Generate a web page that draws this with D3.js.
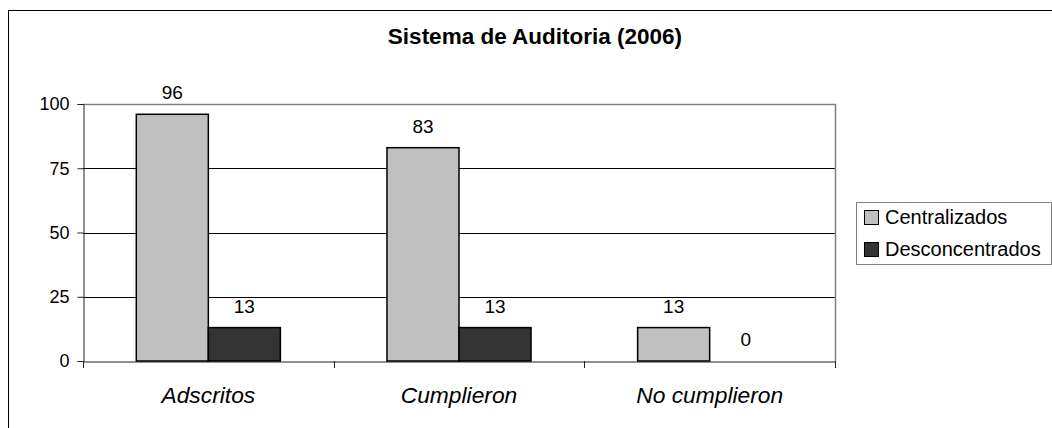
<!DOCTYPE html>
<html>
<head>
<meta charset="utf-8">
<script src="https://cdn.jsdelivr.net/npm/d3@7"></script>
<style>
  body { margin: 0; background: #fff; }
  svg { font-family: "Liberation Sans", Arial, sans-serif; }
</style>
</head>
<body>
<svg id="chart"></svg>
<script>
const categories = ['Adscritos', 'Cumplieron', 'No cumplieron']
const seriesNames = ['Centralizados', 'Desconcentrados']
const centralizados = [96, 83, 13]
const desconcentrados = [13, 13, 0]
const yTicks = [0, 25, 50, 75, 100]
const title = 'Sistema de Auditoria (2006)'

const colors = { Centralizados: '#c0c0c0', Desconcentrados: '#333333' }
const FONT = '"Liberation Sans", Arial, sans-serif'

const W = 1052, H = 428
const plot = { left: 83, right: 835, top: 104, bottom: 361 }

const svg = d3.select('#chart').attr('width', W).attr('height', H)

// outer frame
svg.append('rect')
  .attr('x', 8.5).attr('y', 10.5)
  .attr('width', W + 10).attr('height', H + 10)
  .attr('fill', 'none').attr('stroke', '#000')

const x0 = d3.scaleBand()
  .domain(categories)
  .range([plot.left, plot.right])

const x1 = d3.scaleBand()
  .domain(seriesNames)
  .range([0, x0.bandwidth()])
  .paddingInner(0)
  .paddingOuter(0.74)

const y = d3.scaleLinear()
  .domain([0, 100])
  .range([plot.bottom, plot.top])

// grid lines
svg.append('g')
  .selectAll('line')
  .data(yTicks.filter(t => t > 0 && t < 100))
  .enter()
  .append('line')
  .attr('x1', plot.left).attr('x2', plot.right)
  .attr('y1', d => Math.round(y(d)) + 0.5).attr('y2', d => Math.round(y(d)) + 0.5)
  .attr('stroke', '#000')

// plot border top/right (gray)
svg.append('path')
  .attr('d', `M${plot.left},${plot.top + 0.5}H${plot.right + 0.5}V${plot.bottom}`)
  .attr('fill', 'none').attr('stroke', '#808080').attr('stroke-width', 1.5)

// y axis
const yAxis = svg.append('g')
  .attr('transform', `translate(${plot.left + 0.5},0)`)
  .call(d3.axisLeft(y).tickValues(yTicks).tickSize(6).tickPadding(8))
yAxis.select('.domain').attr('stroke', '#222')
yAxis.selectAll('.tick line').attr('stroke', '#222')
yAxis.selectAll('text').attr('font-size', 18).attr('fill', '#000')
  .attr('font-family', FONT)

// x axis
const xAxis = svg.append('g')
  .attr('transform', `translate(0,${plot.bottom + 0.5})`)
  .call(d3.axisBottom(x0).tickSize(0))
xAxis.select('.domain').attr('stroke', '#222')
xAxis.selectAll('text')
  .attr('y', 41).attr('dy', null)
  .attr('font-size', 22.8).attr('font-style', 'italic').attr('fill', '#000')
  .attr('font-family', FONT)

// category separator ticks
svg.append('g')
  .selectAll('line')
  .data(categories.concat(['end']))
  .enter()
  .append('line')
  .attr('x1', (d, i) => Math.round(plot.left + i * x0.bandwidth()) + 0.5)
  .attr('x2', (d, i) => Math.round(plot.left + i * x0.bandwidth()) + 0.5)
  .attr('y1', plot.bottom).attr('y2', plot.bottom + 7)
  .attr('stroke', '#222')

const rows = categories.map((c, i) => ({
  cat: c,
  values: [
    { name: 'Centralizados', value: centralizados[i] },
    { name: 'Desconcentrados', value: desconcentrados[i] }
  ]
}))

const groups = svg.append('g')
  .selectAll('g')
  .data(rows)
  .enter()
  .append('g')
  .attr('transform', d => `translate(${x0(d.cat)},0)`)

// bars
groups.selectAll('rect')
  .data(d => d.values.filter(v => v.value > 0))
  .enter()
  .append('rect')
  .attr('x', d => x1(d.name))
  .attr('y', d => y(d.value))
  .attr('width', x1.bandwidth())
  .attr('height', d => y(0) - y(d.value))
  .attr('fill', d => colors[d.name])
  .attr('stroke', '#000')
  .attr('stroke-width', 1.5)

// value labels
groups.selectAll('text')
  .data(d => d.values)
  .enter()
  .append('text')
  .attr('x', d => x1(d.name) + x1.bandwidth() / 2)
  .attr('y', d => y(d.value) - 15)
  .attr('text-anchor', 'middle')
  .attr('font-size', 19)
  .text(d => d.value)

// title
svg.append('text')
  .attr('x', 535)
  .attr('y', 44)
  .attr('text-anchor', 'middle')
  .attr('font-size', 22.5)
  .attr('font-weight', 'bold')
  .text(title)

// legend
const legend = svg.append('g').attr('transform', 'translate(856,202)')
legend.append('rect')
  .attr('x', 0.5).attr('y', 0.5).attr('width', 195).attr('height', 62)
  .attr('fill', '#fff').attr('stroke', '#808080')

const items = legend.selectAll('g.item')
  .data(seriesNames)
  .enter()
  .append('g')
  .attr('class', 'item')
  .attr('transform', (d, i) => `translate(8,${8 + i * 32})`)

items.append('rect')
  .attr('x', 0.5).attr('y', 0.5)
  .attr('width', 14).attr('height', 14)
  .attr('fill', d => colors[d])
  .attr('stroke', '#000')

items.append('text')
  .attr('x', 21).attr('y', 14)
  .attr('font-size', 20)
  .text(d => d)
</script>
</body>
</html>
